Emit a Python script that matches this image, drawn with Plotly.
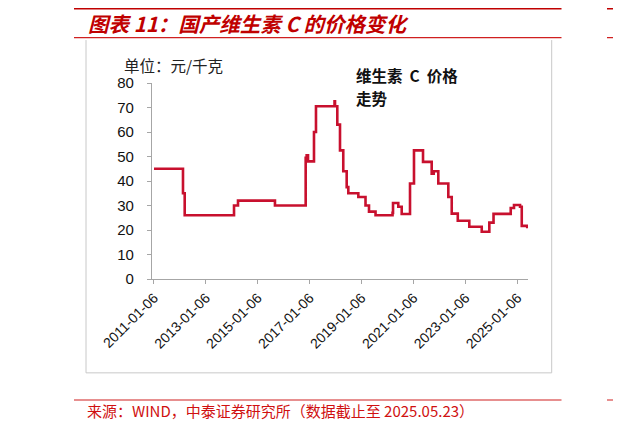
import plotly.graph_objects as go

# 国产维生素C价格（元/千克），按价格变动点读取，阶梯式连线
dates = ["2011-01-06", "2012-02-18", "2012-03-13", "2014-02-05", "2014-04-02",
         "2015-09-04", "2016-11-09", "2016-11-23", "2016-12-12", "2017-03-06",
         "2017-04-03", "2017-12-20", "2017-12-27", "2018-01-28", "2018-03-07",
         "2018-04-22", "2018-06-09", "2018-07-02", "2018-11-20", "2019-03-01",
         "2019-04-19", "2019-07-20", "2020-03-15", "2020-03-22", "2020-06-04",
         "2020-07-22", "2020-11-16", "2021-01-11", "2021-05-18", "2021-09-17",
         "2021-10-15", "2021-12-19", "2022-05-09", "2022-06-26", "2022-09-19",
         "2023-02-28", "2023-08-22", "2023-12-07", "2024-02-04", "2024-10-03",
         "2024-11-18", "2025-02-11", "2025-03-07", "2025-05-23"]
prices = [45, 35, 26, 30, 32,
          30, 49.5, 50.5, 48, 60,
          70.5, 72.5, 70.5, 63, 52.5,
          44, 37.5, 35, 33.5, 30,
          27.5, 26, 27, 31, 29.5,
          26.5, 39, 52.5, 47.8, 43,
          44, 39, 33.5, 26.7, 23.8,
          21.3, 19.3, 23, 26.6, 29,
          30.2, 29.5, 21.7, 20.7]

tick_dates = ["2011-01-06", "2013-01-06", "2015-01-06", "2017-01-06",
              "2019-01-06", "2021-01-06", "2023-01-06", "2025-01-06"]
y_ticks = [0, 10, 20, 30, 40, 50, 60, 70, 80]

# 页面自带 8px 边距，图本身缩小 8px，坐标按整页像素换算
OFF = 8
W, H = 621 - OFF, 431 - OFF
L, R, T, B = 152, 528, 83, 279.3   # 绘图区在整页上的像素边界


def px(x):
    return (x - L) / (R - L)


def py(y):
    return (B - y) / (B - T)


RED = "#C8102E"
DARK_RED = "#C00000"

fig = go.Figure(go.Scatter(
    x=dates, y=prices, mode="lines",
    line=dict(color=RED, width=2.6, shape="hv"),
    hoverinfo="x+y", showlegend=False
))

shapes = []
# 标题上下红线、来源上方红线（右侧为相邻图表的残边）
for x0, x1 in [(74, 561.5), (607, 640)]:
    shapes.append(dict(type="line", xref="paper", yref="paper", x0=px(x0), x1=px(x1),
                       y0=py(8), y1=py(8), line=dict(color="#C00000", width=3)))
    shapes.append(dict(type="line", xref="paper", yref="paper", x0=px(x0), x1=px(x1),
                       y0=py(37.5), y1=py(37.5), line=dict(color="#D02020", width=1.2)))
    shapes.append(dict(type="line", xref="paper", yref="paper", x0=px(x0), x1=px(x1),
                       y0=py(400.5), y1=py(400.5), line=dict(color="#D02020", width=1.2)))
# 图表灰色边框
for x0, y0, x1, y1 in [(86, 40, 86, 373.3), (551.7, 40, 551.7, 373.3), (86, 373.3, 551.7, 373.3)]:
    shapes.append(dict(type="line", xref="paper", yref="paper", x0=px(x0), x1=px(x1),
                       y0=py(y0), y1=py(y1), line=dict(color="#C8C8C8", width=1)))

annotations = [
    dict(text="<b><i>图表 11：国产维生素 C 的价格变化</i></b>", x=px(86), y=py(22.5),
         xref="paper", yref="paper", xanchor="left", yanchor="middle", showarrow=False,
         font=dict(family="Noto Sans CJK SC", size=20.5, color=DARK_RED)),
    dict(text="来源：WIND，中泰证券研究所（数据截止至 2025.05.23）", x=px(85), y=py(411),
         xref="paper", yref="paper", xanchor="left", yanchor="middle", showarrow=False,
         font=dict(family="Noto Sans CJK SC", size=15, color="#D01010")),
    dict(text="来", x=px(618), y=py(411),
         xref="paper", yref="paper", xanchor="left", yanchor="middle", showarrow=False,
         font=dict(family="Noto Sans CJK SC", size=15, color="#D01010")),
    dict(text="单位：元/千克", x=px(122), y=py(64.5),
         xref="paper", yref="paper", xanchor="left", yanchor="middle", showarrow=False,
         font=dict(family="Noto Sans CJK SC", size=15.5, color="#222222")),
    dict(text="<b>维生素  C  价格</b>", x=px(354), y=py(75),
         xref="paper", yref="paper", xanchor="left", yanchor="middle", showarrow=False,
         font=dict(family="Noto Sans CJK SC", size=15.5, color="#111111")),
    dict(text="<b>走势</b>", x=px(354), y=py(98),
         xref="paper", yref="paper", xanchor="left", yanchor="middle", showarrow=False,
         font=dict(family="Noto Sans CJK SC", size=15.5, color="#111111")),
]

fig.update_layout(
    width=W, height=H,
    margin=dict(l=L - OFF, r=W - (R - OFF), t=T - OFF, b=H - (B - OFF), pad=0),
    paper_bgcolor="white", plot_bgcolor="white",
    font=dict(family="Liberation Sans, Arial", color="#111111"),
    shapes=shapes, annotations=annotations,
    xaxis=dict(
        type="date", range=["2010-12-09", "2025-06-03"],
        tickvals=tick_dates, ticktext=tick_dates, tickangle=-45,
        showline=True, linecolor="#A6A6A6", linewidth=1.3,
        ticks="outside", ticklen=4, tickcolor="#A6A6A6",
        showgrid=False, zeroline=False, automargin=False,
        tickfont=dict(size=14, color="#111111"),
    ),
    yaxis=dict(
        range=[0, 80], tickvals=y_ticks,
        showline=True, linecolor="#A6A6A6", linewidth=1.3,
        ticks="outside", ticklen=4, tickcolor="#A6A6A6",
        showgrid=False, zeroline=False, automargin=False,
        tickfont=dict(size=15, color="#111111"),
        ticklabelstandoff=10,
    ),
)

fig.write_html("out.html")
